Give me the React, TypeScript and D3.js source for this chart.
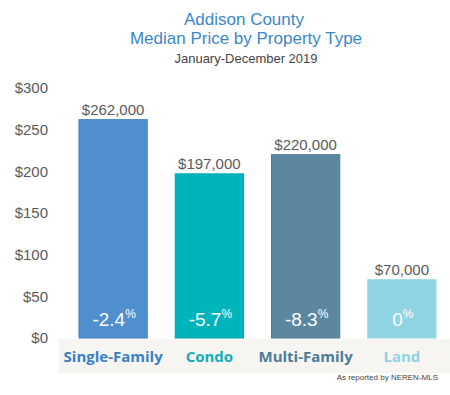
import * as d3 from "d3";

const categories = ["Single-Family", "Condo", "Multi-Family", "Land"];
const medianPrice = [262000, 197000, 220000, 70000];
const changeLabels = ["-2.4", "-5.7", "-8.3", "0"];
const yTicks = [0, 50, 100, 150, 200, 250, 300];
const barColors = ["#4f8fcd", "#00b4bb", "#5b88a0", "#8fd4e2"];
const barStrokes = ["#3f7fc0", "#00a9b0", "#4d7a92", "#9edbe6"];
const labelColors = ["#3a80c6", "#12adb6", "#4b7c97", "#8dd3e2"];

const W = 450;
const H = 395;

export default function App() {
  const x = d3.scaleBand<string>().domain(categories).range([65, 450]).paddingInner(0.28).paddingOuter(0.14);
  // y axis in thousands of dollars
  const y = d3.scaleLinear().domain([0, 300]).range([338, 88]);
  const sans = "'Liberation Sans', Arial, sans-serif";
  const bold = "'Open Sans', sans-serif";

  return (
    <svg width={W} height={H} style={{ position: "absolute", left: 0, top: 0, background: "#fff" }}>
      <g fontFamily={sans} textAnchor="middle">
        <text x={244} y={25} fontSize={17} fill="#3b87cc">Addison County</text>
        <text x={246} y={44} fontSize={17} fill="#3b87cc">Median Price by Property Type</text>
        <text x={246} y={63} fontSize={13} fill="#444">January-December 2019</text>
      </g>

      {/* y axis labels */}
      <g fontFamily={sans} fontSize={15} fill="#5a5a5a" textAnchor="end">
        {yTicks.map((t) => (
          <text key={t} x={48} y={y(t)} dy="0.35em">
            {d3.format("$")(t)}
          </text>
        ))}
      </g>

      {/* category band */}
      <rect x={59} y={339} width={W - 59} height={34} fill="#f6f5f1" />

      {categories.map((c, i) => {
        const bx = x(c) ?? 0;
        const bw = x.bandwidth();
        const v = medianPrice[i] / 1000;
        const cx = bx + bw / 2;
        return (
          <g key={c}>
            <rect
              x={bx + 0.5}
              y={y(v)}
              width={bw - 1}
              height={y(0) - y(v)}
              fill={barColors[i]}
              stroke={barStrokes[i]}
              strokeWidth={1}
            />
            <text x={cx} y={y(v) - 5} textAnchor="middle" fontFamily={sans} fontSize={15} fill="#5a5a5a">
              {d3.format("$,")(medianPrice[i])}
            </text>
            <text x={cx + 1} y={326} textAnchor="middle" fontFamily={sans} fontSize={19} fill="#fff">
              {changeLabels[i]}
              <tspan fontSize={12} dy={-8}>%</tspan>
            </text>
            <text x={cx} y={362} textAnchor="middle" fontFamily={bold} fontWeight={700} fontSize={15} fill={labelColors[i]}>
              {c}
            </text>
          </g>
        );
      })}

      <text x={438} y={380} textAnchor="end" fontFamily={sans} fontSize={8} fill="#444">
        As reported by NEREN-MLS
      </text>
    </svg>
  );
}
